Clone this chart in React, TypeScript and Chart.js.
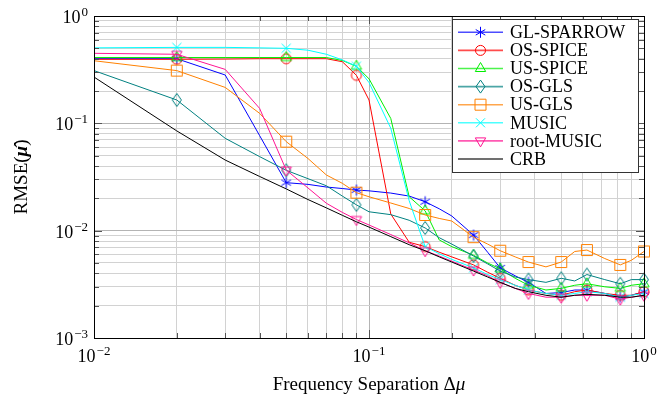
import React, { useEffect, useRef } from 'react';
import { Chart, registerables } from 'chart.js';

Chart.register(...registerables);

// ---------- data ----------
const freq = [0.01, 0.02, 0.03, 0.04, 0.05, 0.06, 0.07, 0.08, 0.09, 0.1, 0.12, 0.14, 0.16, 0.18, 0.2, 0.24, 0.27, 0.3, 0.34, 0.38, 0.44, 0.5, 0.56, 0.62, 0.72, 0.82, 0.9, 1.0];
const markerFreqs = [0.02, 0.05, 0.09, 0.16, 0.24, 0.3, 0.38, 0.5, 0.62, 0.82, 1.0];

const glSparrow = [0.40, 0.40, 0.282, 0.077, 0.028, 0.027, 0.0255, 0.0247, 0.0239, 0.0235, 0.0224, 0.021, 0.0186, 0.016, 0.0137, 0.0091, 0.0063, 0.0045, 0.0038, 0.0033, 0.0026, 0.00265, 0.0028, 0.0028, 0.0026, 0.0024, 0.0025, 0.0027];
const osSpice = [0.395, 0.395, 0.397, 0.40, 0.40, 0.40, 0.40, 0.375, 0.28, 0.165, 0.0143, 0.0078, 0.0071, 0.0063, 0.0057, 0.0048, 0.0041, 0.0036, 0.0031, 0.0028, 0.0026, 0.0025, 0.0027, 0.0028, 0.0026, 0.0025, 0.0025, 0.0027];
const usSpice = [0.41, 0.41, 0.41, 0.41, 0.41, 0.41, 0.41, 0.385, 0.34, 0.26, 0.111, 0.0207, 0.0153, 0.0082, 0.0071, 0.0059, 0.005, 0.0044, 0.0036, 0.0031, 0.0028, 0.0029, 0.0031, 0.0032, 0.003, 0.0029, 0.0031, 0.0032];
const osGls = [0.31, 0.165, 0.0725, 0.049, 0.0365, 0.0305, 0.0262, 0.021, 0.0174, 0.015, 0.0141, 0.0125, 0.0106, 0.0086, 0.0075, 0.0058, 0.0049, 0.0042, 0.0037, 0.0035, 0.0033, 0.0036, 0.0034, 0.0039, 0.0035, 0.0032, 0.0035, 0.0035];
const usGls = [0.383, 0.31, 0.216, 0.124, 0.0675, 0.047, 0.033, 0.0276, 0.0226, 0.0207, 0.0181, 0.0161, 0.014, 0.013, 0.0123, 0.0087, 0.0075, 0.0065, 0.0057, 0.0051, 0.0046, 0.0051, 0.0064, 0.0066, 0.0055, 0.0048, 0.0053, 0.0064];
const music = [0.505, 0.51, 0.51, 0.505, 0.50, 0.48, 0.44, 0.39, 0.34, 0.24, 0.09, 0.019, 0.0071, 0.0061, 0.0054, 0.0045, 0.0039, 0.0035, 0.0031, 0.0028, 0.0026, 0.0025, 0.0026, 0.0027, 0.0026, 0.0024, 0.0025, 0.0026];
const rootMusic = [0.449, 0.44, 0.318, 0.138, 0.0367, 0.025, 0.018, 0.0148, 0.0127, 0.0113, 0.0092, 0.0077, 0.0065, 0.0058, 0.0052, 0.0043, 0.0038, 0.0033, 0.0029, 0.0026, 0.0024, 0.0024, 0.0025, 0.0025, 0.0025, 0.0023, 0.0024, 0.0025];
const crb = [0.27, 0.085, 0.0455, 0.032, 0.0245, 0.0195, 0.0163, 0.0139, 0.0121, 0.0108, 0.0088, 0.0074, 0.0065, 0.0057, 0.0051, 0.0042, 0.0037, 0.0033, 0.0029, 0.0027, 0.0025, 0.0024, 0.0025, 0.00255, 0.0025, 0.0024, 0.0024, 0.0025];

const seriesNames = ['GL-SPARROW', 'OS-SPICE', 'US-SPICE', 'OS-GLS', 'US-GLS', 'MUSIC', 'root-MUSIC', 'CRB'];
const seriesValues = [glSparrow, osSpice, usSpice, osGls, usGls, music, rootMusic, crb];
const seriesColors = ['#0000ff', '#ff0000', '#00ee00', '#008080', '#ff8000', '#00ffff', '#ff1493', '#000000'];
const seriesMarkers = ['asterisk', 'circle', 'triangle', 'diamond', 'square', 'x', 'triangleDown', 'none'];

const xMajorTicks = [0.01, 0.1, 1];
const xTickExponents = ['\u22122', '\u22121', '0'];
const yMajorTicks = [0.001, 0.01, 0.1, 1];
const yTickExponents = ['\u22123', '\u22122', '\u22121', '0'];

const SERIF = "'Liberation Serif', 'Times New Roman', serif";

// ---------- marker drawing ----------
function drawMarker(ctx: CanvasRenderingContext2D, style: string, x: number, y: number, color: string) {
  if (style === 'none') return;
  ctx.save();
  ctx.strokeStyle = color;
  ctx.lineWidth = 1;
  ctx.beginPath();
  switch (style) {
    case 'asterisk': {
      const r = 5.5;
      for (const a of [90, 30, 150]) {
        const dx = Math.cos((a * Math.PI) / 180) * r;
        const dy = Math.sin((a * Math.PI) / 180) * r;
        ctx.moveTo(x - dx, y - dy);
        ctx.lineTo(x + dx, y + dy);
      }
      break;
    }
    case 'circle':
      ctx.arc(x, y, 5, 0, Math.PI * 2);
      break;
    case 'triangle': {
      const r = 6;
      ctx.moveTo(x, y - r);
      ctx.lineTo(x + r * 0.866, y + r * 0.5);
      ctx.lineTo(x - r * 0.866, y + r * 0.5);
      ctx.closePath();
      break;
    }
    case 'triangleDown': {
      const r = 6;
      ctx.moveTo(x, y + r);
      ctx.lineTo(x + r * 0.866, y - r * 0.5);
      ctx.lineTo(x - r * 0.866, y - r * 0.5);
      ctx.closePath();
      break;
    }
    case 'diamond':
      ctx.moveTo(x, y - 6.5);
      ctx.lineTo(x + 4.5, y);
      ctx.lineTo(x, y + 6.5);
      ctx.lineTo(x - 4.5, y);
      ctx.closePath();
      break;
    case 'square':
      ctx.rect(x - 5.5, y - 5.5, 11, 11);
      break;
    case 'x': {
      const r = 4.5;
      ctx.moveTo(x - r, y - r);
      ctx.lineTo(x + r, y + r);
      ctx.moveTo(x + r, y - r);
      ctx.lineTo(x - r, y + r);
      break;
    }
  }
  ctx.stroke();
  ctx.restore();
}

function makeMarkerCanvas(style: string, color: string): HTMLCanvasElement {
  const c = document.createElement('canvas');
  c.width = 18;
  c.height = 18;
  const cx = c.getContext('2d')!;
  drawMarker(cx, style, 9, 9, color);
  return c;
}

function buildLogTicks(minExp: number, maxExp: number) {
  const ticks: { value: number; major: boolean }[] = [];
  for (let e = minExp; e < maxExp; e++) {
    for (let m = 1; m <= 9; m++) {
      ticks.push({ value: parseFloat((m * Math.pow(10, e)).toPrecision(6)), major: m === 1 });
    }
  }
  ticks.push({ value: Math.pow(10, maxExp), major: true });
  return ticks;
}

function drawPow(ctx: CanvasRenderingContext2D, exp: string, x: number, baseline: number, align: 'center' | 'right') {
  ctx.font = `18px ${SERIF}`;
  const w1 = ctx.measureText('10').width;
  ctx.font = `13px ${SERIF}`;
  const w2 = ctx.measureText(exp).width;
  const total = w1 + w2 + 1;
  const start = align === 'center' ? x - total / 2 : x - total;
  ctx.textAlign = 'left';
  ctx.textBaseline = 'alphabetic';
  ctx.fillStyle = '#000';
  ctx.font = `18px ${SERIF}`;
  ctx.fillText('10', start, baseline);
  ctx.font = `13px ${SERIF}`;
  ctx.fillText(exp, start + w1 + 1, baseline - 7);
}

const decorPlugin = {
  id: 'pgfDecor',
  afterDraw(chart: any) {
    const { ctx, chartArea: a } = chart;
    const xs = chart.scales.x;
    const ys = chart.scales.y;
    ctx.save();
    // inner tick marks
    ctx.strokeStyle = '#555';
    ctx.lineWidth = 1;
    ctx.beginPath();
    xs.ticks.forEach((t: any) => {
      const px = Math.round(xs.getPixelForValue(t.value)) + 0.5;
      const len = t.major ? 8 : 5;
      ctx.moveTo(px, a.bottom);
      ctx.lineTo(px, a.bottom - len);
      ctx.moveTo(px, a.top);
      ctx.lineTo(px, a.top + len);
    });
    ys.ticks.forEach((t: any) => {
      const py = Math.round(ys.getPixelForValue(t.value)) + 0.5;
      const len = t.major ? 8 : 5;
      ctx.moveTo(a.left, py);
      ctx.lineTo(a.left + len, py);
      ctx.moveTo(a.right, py);
      ctx.lineTo(a.right - len, py);
    });
    ctx.stroke();
    // frame
    ctx.strokeStyle = '#000';
    ctx.strokeRect(Math.round(a.left) + 0.5, Math.round(a.top) + 0.5, Math.round(a.right - a.left), Math.round(a.bottom - a.top));

    // tick labels
    xMajorTicks.forEach((v, i) => {
      drawPow(ctx, xTickExponents[i], xs.getPixelForValue(v), 362, 'center');
    });
    yMajorTicks.forEach((v, i) => {
      drawPow(ctx, yTickExponents[i], 88, ys.getPixelForValue(v) + 7, 'right');
    });

    // x title
    ctx.fillStyle = '#000';
    ctx.textBaseline = 'alphabetic';
    ctx.font = `19px ${SERIF}`;
    const t1 = 'Frequency Separation \u0394';
    const w1 = ctx.measureText(t1).width;
    ctx.font = `italic 19px ${SERIF}`;
    const w2 = ctx.measureText('\u03bc').width;
    const sx = (a.left + a.right) / 2 - (w1 + w2) / 2;
    ctx.textAlign = 'left';
    ctx.font = `19px ${SERIF}`;
    ctx.fillText(t1, sx, 390);
    ctx.font = `italic 19px ${SERIF}`;
    ctx.fillText('\u03bc', sx + w1, 390);

    // y title
    ctx.save();
    ctx.translate(22, (a.top + a.bottom) / 2);
    ctx.rotate(-Math.PI / 2);
    ctx.textBaseline = 'middle';
    const p1 = 'RMSE(';
    const p2 = '\u03bc\u0302';
    const p3 = ')';
    ctx.font = `19px ${SERIF}`;
    const q1 = ctx.measureText(p1).width;
    const q3 = ctx.measureText(p3).width;
    ctx.font = `bold italic 19px ${SERIF}`;
    const q2 = ctx.measureText(p2).width;
    let yx = -(q1 + q2 + q3) / 2;
    ctx.font = `19px ${SERIF}`;
    ctx.fillText(p1, yx, 0);
    yx += q1;
    ctx.font = `bold italic 19px ${SERIF}`;
    ctx.fillText(p2, yx, 0);
    yx += q2;
    ctx.font = `19px ${SERIF}`;
    ctx.fillText(p3, yx, 0);
    ctx.restore();

    // legend
    const lx0 = 452.5, ly0 = 19.5, lx1 = 638.5, ly1 = 172.5;
    ctx.fillStyle = '#fff';
    ctx.fillRect(lx0, ly0, lx1 - lx0, ly1 - ly0);
    ctx.strokeStyle = '#333';
    ctx.lineWidth = 1;
    ctx.strokeRect(lx0, ly0, lx1 - lx0, ly1 - ly0);
    seriesNames.forEach((name, i) => {
      const ry = 32.3 + i * 18.1;
      ctx.save();
      ctx.strokeStyle = seriesColors[i];
      ctx.globalAlpha = i === 7 ? 0.75 : 0.7;
      ctx.lineWidth = 1.6;
      ctx.beginPath();
      ctx.moveTo(458, ry);
      ctx.lineTo(503, ry);
      ctx.stroke();
      ctx.restore();
      drawMarker(ctx, seriesMarkers[i], 480.5, ry, seriesColors[i]);
      ctx.fillStyle = '#000';
      ctx.font = `18px ${SERIF}`;
      ctx.textAlign = 'left';
      ctx.textBaseline = 'middle';
      ctx.fillText(name, 510, ry + 1);
    });
    ctx.restore();
  },
};

export default function App() {
  const ref = useRef<HTMLCanvasElement>(null);
  useEffect(() => {
    document.body.style.margin = '0';
    const markerCanvases = seriesMarkers.map((m, i) => (m === 'none' ? 'circle' : makeMarkerCanvas(m, seriesColors[i])));
    const datasets = seriesNames.map((name, i) => ({
      label: name,
      data: freq.map((f, j) => ({ x: f, y: seriesValues[i][j] })),
      borderColor: seriesColors[i],
      backgroundColor: seriesColors[i],
      borderWidth: 1,
      tension: 0,
      fill: false,
      clip: false as any,
      order: seriesNames.length - i,
      pointStyle: markerCanvases[i] as any,
      pointRadius: freq.map((f) => (seriesMarkers[i] !== 'none' && markerFreqs.includes(f) ? 5 : 0)),
      pointHoverRadius: 0,
      pointBorderWidth: 1,
    }));
    const gridColor = (c: any) => (c.tick && c.tick.major ? '#b4b4b4' : '#d2d2d2');
    const chart = new Chart(ref.current!, {
      type: 'line',
      data: { datasets },
      options: {
        animation: false,
        responsive: false,
        devicePixelRatio: 1,
        events: [],
        layout: { padding: { left: 94, right: 15, top: 16, bottom: 57 } },
        plugins: { legend: { display: false }, tooltip: { enabled: false } },
        scales: {
          x: {
            type: 'logarithmic',
            min: 0.01,
            max: 1,
            afterBuildTicks: (s: any) => {
              s.ticks = buildLogTicks(-2, 0);
            },
            ticks: { display: false },
            grid: { color: gridColor, lineWidth: 1, drawTicks: false },
            border: { display: false },
          },
          y: {
            type: 'logarithmic',
            min: 0.001,
            max: 1,
            afterBuildTicks: (s: any) => {
              s.ticks = buildLogTicks(-3, 0);
            },
            ticks: { display: false },
            grid: { color: gridColor, lineWidth: 1, drawTicks: false },
            border: { display: false },
          },
        },
      } as any,
      plugins: [decorPlugin],
    });
    return () => chart.destroy();
  }, []);
  return (
    <div style={{ width: 659, height: 395 }}>
      <canvas ref={ref} width={659} height={395} style={{ display: 'block' }} />
    </div>
  );
}
